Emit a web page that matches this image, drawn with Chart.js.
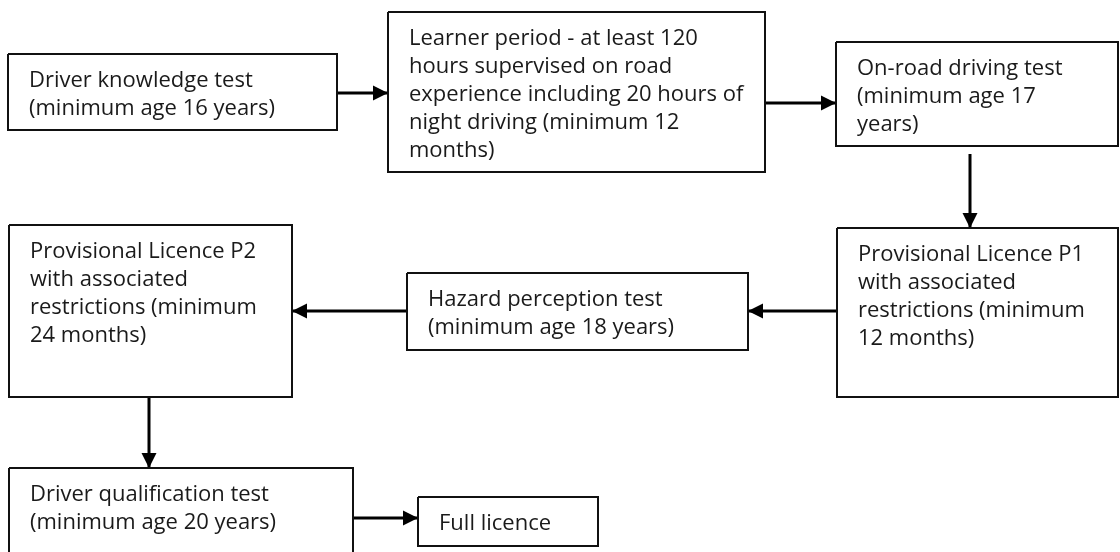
<!DOCTYPE html>
<html>
<head>
<meta charset="utf-8">
<script src="https://cdn.jsdelivr.net/npm/chart.js@4.4.1/dist/chart.umd.min.js"></script>
<style>
  html, body { margin: 0; padding: 0; background: #fff; }
  #flow { display: block; }
</style>
</head>
<body>
<canvas id="flow" width="1120" height="552"></canvas>
<script>
// steps of the licence process, one entry per box (lines as wrapped in the picture)
const stepLabels = [
    ['Driver knowledge test', '(minimum age 16 years)'],
    ['Learner period - at least 120', 'hours supervised on road', 'experience including 20 hours of', 'night driving (minimum 12', 'months)'],
    ['On-road driving test', '(minimum age 17', 'years)'],
    ['Provisional Licence P1', 'with associated', 'restrictions (minimum', '12 months)'],
    ['Hazard perception test', '(minimum age 18 years)'],
    ['Provisional Licence P2', 'with associated', 'restrictions (minimum', '24 months)'],
    ['Driver qualification test', '(minimum age 20 years)'],
    ['Full licence'],
]

// box extents in diagram units: [left, top, right, bottom]
const stepBoxes = [
    [8, 54, 337, 130],
    [388, 12, 765, 172],
    [836, 42, 1118, 146],
    [837, 228, 1118, 397],
    [407, 273, 748, 350],
    [9, 225, 292, 397],
    [9, 468, 353, 570],
    [418, 497, 598, 546],
]

// connectors: [fromX, fromY, toX, toY], head at the "to" end
const arrowLinks = [
    [337, 93, 388, 93],
    [765, 103, 836, 103],
    [970, 154, 970, 228],
    [837, 311, 748, 311],
    [407, 311, 292, 311],
    [149, 397, 149, 468],
    [353, 518, 418, 518],
]

const boxDatasets = stepBoxes.map(([l, t, r, b], i) => ({
    label: stepLabels[i][0],
    data: [
        { x: l, y: t },
        { x: r, y: t },
        { x: r, y: b },
        { x: l, y: b },
        { x: l, y: t },
    ],
    showLine: true,
    borderColor: '#111',
    borderWidth: 2,
    borderJoinStyle: 'miter',
    pointRadius: 0,
    tension: 0,
    fill: false,
}))

const arrowDatasets = arrowLinks.map(([x0, y0, x1, y1], i) => ({
    label: 'arrow ' + (i + 1),
    data: [
        { x: x0, y: y0 },
        { x: x1, y: y1 },
    ],
    showLine: true,
    borderColor: '#000',
    borderWidth: 3,
    pointRadius: 0,
    tension: 0,
    fill: false,
    isArrow: true,
}))

// filled triangle at the end of every connector
const arrowHeads = {
    id: 'arrowHeads',
    afterDatasetsDraw(chart) {
        const { ctx } = chart
        chart.data.datasets.forEach((ds, i) => {
            if (!ds.isArrow) return
            const pts = chart.getDatasetMeta(i).data
            const a = pts[0], b = pts[1]
            const ang = Math.atan2(b.y - a.y, b.x - a.x)
            const len = 15, half = 7.5
            ctx.save()
            ctx.fillStyle = '#000'
            ctx.beginPath()
            ctx.moveTo(b.x, b.y)
            ctx.lineTo(b.x - len * Math.cos(ang) - half * Math.sin(ang), b.y - len * Math.sin(ang) + half * Math.cos(ang))
            ctx.lineTo(b.x - len * Math.cos(ang) + half * Math.sin(ang), b.y - len * Math.sin(ang) - half * Math.cos(ang))
            ctx.closePath()
            ctx.fill()
            ctx.restore()
        })
    },
}

// text inside each box, placed from the box's top-left corner
const boxText = {
    id: 'boxText',
    afterDatasetsDraw(chart) {
        const { ctx, scales } = chart
        ctx.save()
        ctx.fillStyle = '#1a1a1a'
        ctx.font = '22px "Open Sans", sans-serif'
        ctx.textBaseline = 'alphabetic'
        ctx.textAlign = 'left'
        stepBoxes.forEach(([l, t], i) => {
            const px = scales.x.getPixelForValue(l) + 21
            const py = scales.y.getPixelForValue(t) + 33
            stepLabels[i].forEach((line, j) => {
                ctx.fillText(line, px, py + j * 28)
            })
        })
        ctx.restore()
    },
}

new Chart(document.getElementById('flow'), {
    type: 'scatter',
    data: { datasets: [...boxDatasets, ...arrowDatasets] },
    options: {
        responsive: false,
        animation: false,
        layout: { padding: 0 },
        scales: {
            x: { type: 'linear', min: 0, max: 1120, display: false },
            y: { type: 'linear', min: 0, max: 552, reverse: true, display: false },
        },
        plugins: {
            legend: { display: false },
            tooltip: { enabled: false },
        },
    },
    plugins: [arrowHeads, boxText],
})
</script>
</body>
</html>
